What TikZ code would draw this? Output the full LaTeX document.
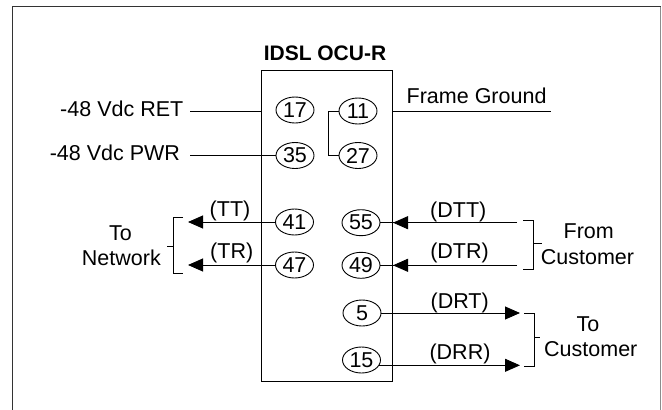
\documentclass[tikz,border=0pt]{standalone}
\usepackage{fontspec}
\setmainfont{Liberation Sans}
\usetikzlibrary{arrows.meta,shapes.geometric,decorations.markings}
\begin{document}
\begin{tikzpicture}[x=1pt,y=-1pt,
  every node/.style={inner sep=0pt, outer sep=0pt, font=\fontsize{21.5}{25}\selectfont},
  pin/.style={draw, ellipse, line width=0.9pt, minimum width=38pt, minimum height=26pt},
  wire/.style={line width=0.9pt},
  tri/.style={-{Triangle[length=15pt,width=13pt]}},
  revtri/.style={postaction={decorate}, decoration={markings, mark=at position -13pt with {\arrow{Triangle[length=15pt,width=13pt]}}}},
  brk/.style={line width=0.9pt},
]
\useasboundingbox (0,0) rectangle (662,410);
% frame
\draw[line width=1.3pt, black!80] (12.3,412) -- (12.3,6.7) -- (660.7,6.7);
\draw[line width=1.3pt, black!45] (660.7,6.7) -- (660.7,412);

% box and title
\node[draw, line width=0.9pt, minimum width=130.6pt, minimum height=310.8pt] (box) at (327,226.1) {};
\node[anchor=base, font=\fontsize{21}{25}\selectfont\bfseries] (title) at (325,60) {IDSL OCU-R};

% pins
\node[pin] (p17) at (295,110) {17};
\node[pin] (p35) at (295,155.5) {35};
\node[pin] (p11) at (358,111) {11};
\node[pin] (p27) at (358,155.5) {27};
\node[pin] (p41) at (294.5,222) {41};
\node[pin] (p47) at (294.5,265) {47};
\node[pin] (p55) at (361,222.7) {55};
\node[pin] (p49) at (361,265.3) {49};
\node[pin] (p5) at (362,313) {5};
\node[pin] (p15) at (361.5,360) {15};

% labels
\node[anchor=base east] (tret) at (183.3,116.7) {-48 Vdc RET};
\node[anchor=base east] (tpwr) at (180,160) {-48 Vdc PWR};
\node[anchor=base west] (tfg) at (406.7,103.3) {Frame Ground};
\node (ltt) at (230,210.8) {(TT)};
\node (ltr) at (231.7,252.5) {(TR)};
\node (ldtt) at (458.3,211.7) {(DTT)};
\node (ldtr) at (459.5,253.3) {(DTR)};
\node (ldrt) at (459.7,303) {(DRT)};
\node (ldrr) at (460,353.8) {(DRR)};
\node[anchor=base] (tnet1) at (120.4,240) {To};
\node[anchor=base] (tnet2) at (121.4,265) {Network};
\node[anchor=base] (tfc1) at (588.7,238.3) {From};
\node[anchor=base] (tfc2) at (587.5,264) {Customer};
\node[anchor=base] (ttc1) at (588,331.7) {To};
\node[anchor=base] (ttc2) at (590.8,356.7) {Customer};

% free ends
\coordinate (ret) at (190,111.7);
\coordinate (pwr) at (190,155.5);
\coordinate (fg) at (550.7,111.7);
\coordinate (tt) at (188,222);
\coordinate (tr) at (188,265);
\coordinate (dtt) at (517,222.7);
\coordinate (dtr) at (517,265.3);
\coordinate (drt) at (520,313);

% connectors
\draw[wire] (ret) -- (ret -| box.west);
\draw[wire] (pwr) -- (p35.west);
\draw[wire] (box.east |- fg) -- (fg);
\draw[wire] (p11.west) -- ++(-11,0) |- (p27.west);
\draw[wire,tri] (p41.west) -- (tt);
\draw[wire,tri] (p47.west) -- (tr);
\draw[wire,revtri] (dtt) -- (p55.east);
\draw[wire,revtri] (dtr) -- (p49.east);
\draw[wire,tri] (p5.east) -- (drt);
\draw[wire,tri] (p15.-17) -- (p15.-17 -| drt);

% brackets
\draw[brk] (183,217.7) -- (173.3,217.7) -- (173.3,273.3) -- (183,273.3) (173.3,246.7) -- (166.7,246.7);
\draw[brk] (523,220.7) -- (533.3,220.7) -- (533.3,269) -- (523,269) (533.3,243) -- (541.7,243);
\draw[brk] (524,313) -- (534,313) -- (534,366) -- (524,366) (534,337) -- (540,337);
\end{tikzpicture}
\end{document}
